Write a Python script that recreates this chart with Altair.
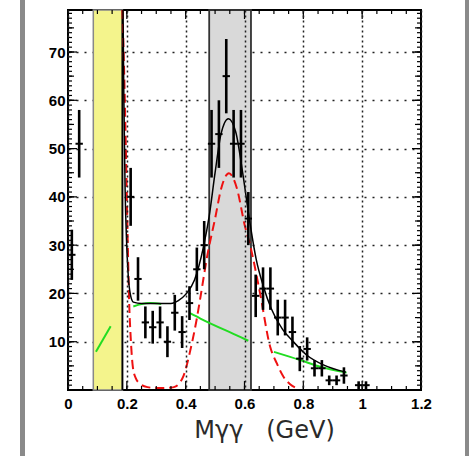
import altair as alt
import pandas as pd

# ---- measured data points (bin centres, counts, errors) ----
x_pts = [0.013, 0.038, 0.213, 0.238, 0.263, 0.288, 0.313, 0.338, 0.363, 0.388,
         0.413, 0.438, 0.463, 0.488, 0.513, 0.538, 0.563, 0.588, 0.613, 0.638,
         0.663, 0.688, 0.713, 0.738, 0.763, 0.788, 0.813, 0.838, 0.863, 0.888,
         0.913, 0.938, 0.988, 1.013]
y_pts = [28, 51, 40, 23, 14, 13, 14, 10, 16, 12,
         18, 25, 30, 51, 53, 65, 51, 51, 35.5, 19.5,
         21, 21, 15, 15, 12, 6.5, 8.5, 4.5, 4.5, 2,
         2, 3, 1, 1]
y_err = [5.2, 7, 6, 4.5, 3.3, 3.4, 3.3, 3.2, 3.7, 3.3,
         3.5, 4.5, 5, 7, 7, 7.7, 7, 7, 5.5, 4.4,
         4.4, 4.4, 3.7, 3.7, 3.2, 2.6, 2.4, 1.7, 1.7, 1,
         1, 1.7, 0.8, 0.8]
x_half = 0.0125

# ---- total fit (black) ----
fit_x = [0.187, 0.190, 0.194, 0.199, 0.205, 0.212, 0.222, 0.25, 0.30, 0.35,
         0.375, 0.40, 0.43, 0.46, 0.48, 0.50, 0.52, 0.545, 0.57, 0.595,
         0.615, 0.64, 0.664, 0.69, 0.73, 0.766, 0.81, 0.868, 0.945]
fit_y = [78.7, 60, 42, 31, 23.5, 19.8, 18.2, 17.9, 17.9, 17.9,
         18.5, 19.8, 22.8, 29.5, 36, 45, 53, 56.2, 53.5, 44.5,
         36, 27, 21.5, 17, 12.5, 10, 7.3, 5.2, 3.7]

# ---- signal shapes (red dashed) ----
sig_x = [0.185, 0.190, 0.195, 0.200, 0.204, 0.208, 0.213, 0.220, 0.230, 0.245,
         0.27, 0.30, 0.33, 0.36, 0.38, 0.392, 0.415, 0.437, 0.455, 0.471,
         0.50, 0.522, 0.547, 0.573, 0.602, 0.619, 0.653, 0.687, 0.71, 0.732,
         0.755, 0.777]
sig_y = [78.7, 68, 55, 40, 28, 18, 11, 5, 2.5, 1.3,
         0.6, 0.4, 0.4, 0.6, 1.5, 2.8, 8, 14.5, 21, 27,
         35.5, 42, 44.9, 42, 33.8, 30, 20, 9, 5.5, 2.8,
         1.2, 0.4]

# ---- background (green), in segments ----
bg_seg = ["a", "a", "b", "b", "b", "b", "c", "c", "c", "c", "d", "d", "d", "d"]
bg_x = [0.095, 0.145, 0.222, 0.25, 0.28, 0.317, 0.415, 0.45, 0.585, 0.613,
        0.70, 0.789, 0.857, 0.947]
bg_y = [7.9, 13.2, 17.3, 17.8, 18.0, 17.8, 15.9, 14.8, 11.0, 10.2,
        7.9, 6.2, 4.8, 3.6]

# ---- shaded regions ----
yellow_band = [0.086, 0.185]
gray_band = [0.48, 0.622]

# ---- axes ----
x_ticks = [0, 0.2, 0.4, 0.6, 0.8, 1.0, 1.2]
y_ticks = [10, 20, 30, 40, 50, 60, 70]
x_minor = [round(i * 0.05, 2) for i in range(25)]
y_minor = list(range(0, 79))
y_max = 78.7
x_title = "Mγγ\u00a0\u00a0\u00a0(GeV)"

W, H = 353, 380
XS = alt.Scale(domain=[0, 1.2], nice=False, zero=False)
YS = alt.Scale(domain=[0, y_max], nice=False, zero=False)

pts = pd.DataFrame({"x": x_pts, "y": y_pts, "e": y_err})
pts["ylo"] = pts["y"] - pts["e"]
pts["yhi"] = pts["y"] + pts["e"]
pts["xlo"] = pts["x"] - x_half
pts["xhi"] = pts["x"] + x_half

x_axis = alt.Axis(values=x_ticks, format="~g", labelFont="Liberation Sans",
                  labelFontWeight="bold", labelFontSize=15, labelColor="black",
                  labelPadding=6, ticks=False, domain=False, grid=True,
                  gridColor="#222222", gridDash=[2, 3], gridWidth=1.5,
                  labelFlush=False, labelOverlap=False,
                  titleFont="DejaVu Sans", titleFontSize=24, titleFontWeight="normal",
                  titleColor="#2a2a2a", titleX=196, titleY=47, titleAlign="center",
                  titleBaseline="alphabetic", zindex=1)
y_axis = alt.Axis(values=y_ticks, labelFont="Liberation Sans", labelFontWeight="bold",
                  labelFontSize=15, labelColor="black", labelPadding=3, ticks=False,
                  domain=False, grid=True, gridColor="#222222", gridDash=[2, 6],
                  gridWidth=1.5, zindex=0)


def X(field):
    return alt.X(field, scale=XS, axis=x_axis, title=x_title)


def Y(field):
    return alt.Y(field, scale=YS, axis=y_axis, title=None)


yb = pd.DataFrame({"x": [yellow_band[0]], "x2": [yellow_band[1]]})
gb = pd.DataFrame({"x": [gray_band[0]], "x2": [gray_band[1]]})

yellow = alt.Chart(yb).mark_rect(fill="#f4f48c", stroke="#888888", strokeWidth=1.5).encode(
    x=X("x:Q"), x2="x2:Q", y=alt.value(0), y2=alt.value(H),
)
yellow_edge = alt.Chart(yb).mark_rule(color="black", strokeWidth=1.8).encode(
    x=X("x2:Q"), y=alt.value(0), y2=alt.value(H),
)
gray = alt.Chart(gb).mark_rect(fill="#d9d9d9", stroke="#333333", strokeWidth=1.8).encode(
    x=X("x:Q"), x2="x2:Q", y=alt.value(0), y2=alt.value(H),
)

sig = alt.Chart(pd.DataFrame({"x": sig_x, "y": sig_y})).mark_line(
    color="#ee1111", strokeWidth=2, strokeDash=[9, 5], interpolate="monotone", clip=True
).encode(x=X("x:Q"), y=Y("y:Q"))

bg = alt.Chart(pd.DataFrame({"x": bg_x, "y": bg_y, "s": bg_seg})).mark_line(
    color="#22dd22", strokeWidth=2, interpolate="monotone", clip=True
).encode(x=X("x:Q"), y=Y("y:Q"), detail="s:N")

fit = alt.Chart(pd.DataFrame({"x": fit_x, "y": fit_y})).mark_line(
    color="black", strokeWidth=1.5, interpolate="monotone", clip=True
).encode(x=X("x:Q"), y=Y("y:Q"))

ebar = alt.Chart(pts).mark_rule(color="black", strokeWidth=2.6, clip=True).encode(
    x=X("x:Q"), y=Y("ylo:Q"), y2="yhi:Q",
)
xbar = alt.Chart(pts).mark_rule(color="black", strokeWidth=2, clip=True).encode(
    x=X("xlo:Q"), x2="xhi:Q", y=Y("y:Q"),
)


def yticks(vals, length, right=False):
    x0 = W if right else 0
    x1 = W - length if right else length
    return alt.Chart(pd.DataFrame({"y": vals})).mark_rule(color="black", strokeWidth=1.2).encode(
        x=alt.value(x0), x2=alt.value(x1), y=Y("y:Q"))


def xticks(vals, length, top=False):
    y0 = 0 if top else H
    y1 = length if top else H - length
    return alt.Chart(pd.DataFrame({"x": vals})).mark_rule(color="black", strokeWidth=1.2).encode(
        y=alt.value(y0), y2=alt.value(y1), x=X("x:Q"))


y_mid = [v for v in y_minor if v % 5 == 0]
y_major = [v for v in y_minor if v % 10 == 0]
x_major = x_ticks

tick_layers = [
    yticks(y_minor, 4), yticks(y_mid, 6), yticks(y_major, 9),
    yticks(y_minor, 4, True), yticks(y_mid, 6, True), yticks(y_major, 9, True),
    xticks(x_minor, 4), xticks(x_major, 9),
    xticks(x_minor, 4, True), xticks(x_major, 9, True),
]

frame = pd.DataFrame({"k": [0]})
left_bar = alt.Chart(frame).mark_rule(color="#8a8a8a", strokeWidth=5).encode(
    x=alt.value(-45.5), y=alt.value(-10), y2=alt.value(H + 66))
right_bar = alt.Chart(frame).mark_rule(color="#8a8a8a", strokeWidth=5).encode(
    x=alt.value(W + 46.5), y=alt.value(-10), y2=alt.value(H + 66))

chart = alt.layer(
    yellow, gray, yellow_edge, sig, bg, fit, ebar, xbar,
    *tick_layers, left_bar, right_bar
).properties(
    width=W, height=H,
    autosize=alt.AutoSizeParams(type="none"),
    padding={"left": 68, "top": 10, "right": 48, "bottom": 66},
).configure_view(stroke="black", strokeWidth=2)

chart.save("out.html", embed_options={"renderer": "svg", "actions": False})
